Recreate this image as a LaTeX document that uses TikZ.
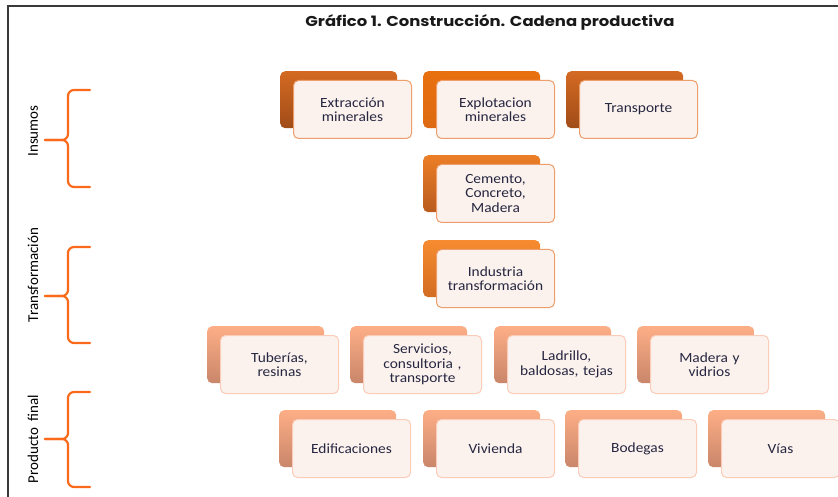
\documentclass[tikz,border=0pt]{standalone}
\usepackage{fontspec}
\setmainfont[FakeStretch=1.1]{Carlito}
\newfontfamily\titlefont[FakeStretch=1.15]{Poppins}
\newfontfamily\sidefont{Carlito}
\usetikzlibrary{backgrounds}
\definecolor{txt}{HTML}{262640}
\definecolor{framec}{HTML}{3A3A3A}
\definecolor{bracec}{HTML}{FA6A1A}
\definecolor{connc}{HTML}{F7C3A6}
\definecolor{frontfill}{HTML}{FBF2EE}
\definecolor{bordA}{HTML}{EE9E6A}
\definecolor{bordB}{HTML}{FBCDB8}
\tikzset{
  backbox/.style={minimum width=117pt, minimum height=57pt, inner sep=0pt, rounded corners=5pt, anchor=north west},
  frontbox/.style={draw, line width=1pt, fill=frontfill, minimum width=118pt, minimum height=58pt, text width=112pt, inner sep=2pt, align=center, rounded corners=5pt, anchor=north west, text=txt, font=\fontsize{14}{14.5}\selectfont},
  bkdark/.style={top color={rgb,255:red,212;green,106;blue,34}, bottom color={rgb,255:red,160;green,76;blue,24}},
  bkexp/.style={top color={rgb,255:red,232;green,112;blue,15}, bottom color={rgb,255:red,221;green,106;blue,18}},
  bkcem/.style={top color={rgb,255:red,236;green,126;blue,38}, bottom color={rgb,255:red,185;green,92;blue,30}},
  bkind/.style={top color={rgb,255:red,246;green,139;blue,48}, bottom color={rgb,255:red,210;green,108;blue,34}},
  bklight/.style={top color={rgb,255:red,253;green,174;blue,134}, bottom color={rgb,255:red,201;green,134;blue,106}},
  conn/.style={draw=connc, line width=1pt},
  bracestyle/.style={draw=bracec, line width=2.2pt, rounded corners=6pt, line cap=round},
  sidelabel/.style={rotate=90, font=\sidefont\fontsize{15}{15}\selectfont, text=black, inner sep=0pt}
}
\newcommand{\card}[7]{%
  \node[backbox, #4] (#1-b) at (#2,#3) {};
  \node[frontbox, draw=#5] (#1) at (#2,#3) [xshift=13pt, yshift=-9pt] {#6#7};
}
\begin{document}
\begin{tikzpicture}[x=1pt,y=-1pt]
\useasboundingbox (0,0) rectangle (838,497);
\fill[white] (0,0) rectangle (838,497);
% frame
\draw[framec, line width=1.6pt] (8,497) -- (8,6) -- (838,6);
% title
\node[anchor=base, font=\titlefont\bfseries\fontsize{14.3}{15}\selectfont, text={rgb,255:red,25;green,25;blue,25}] (title) at (490,27) {Gráfico 1. Construcción. Cadena productiva};
% braces
\draw[bracestyle] (90,90) -- (68,90) -- (68,140) -- (45,140);
\draw[bracestyle] (90,187) -- (68,187) -- (68,140) -- (45,140);
\draw[bracestyle] (90,247) -- (68,247) -- (68,296) -- (45,296);
\draw[bracestyle] (90,343) -- (68,343) -- (68,296) -- (45,296);
\draw[bracestyle] (90,392) -- (68,392) -- (68,439) -- (45,439);
\draw[bracestyle] (90,487) -- (68,487) -- (68,439) -- (45,439);
\node[sidelabel] (ins) at (33,131) {Insumos};
\node[sidelabel] (tra) at (33,275) {Transformación};
\node[sidelabel] (pro) at (33,439) {Producto\hspace{0.45em}final};
% cards
\card{ext}{280}{71}{bkdark}{bordA}{Extracción\\}{minerales}
\card{exp}{423}{71}{bkexp}{bordA}{Explotacion\\}{minerales}
\card{trn}{566}{71}{bkdark}{bordA}{Transporte}{}
\card{cem}{423}{155}{bkcem}{bordA}{Cemento,\\Concreto,\\}{Madera}
\card{ind}{423}{240}{bkind}{bordA}{Industria\\}{transformación}
\card{tub}{207}{326}{bklight}{bordB}{Tuberías,\\}{resinas}
\card{ser}{350}{326}{bklight}{bordB}{Servicios,\\consultoria ,\\}{transporte}
\card{lad}{494}{326}{bklight}{bordB}{Ladrillo,\\}{baldosas, tejas}
\card{mad}{637}{326}{bklight}{bordB}{Madera y\\}{vidrios}
\card{edi}{279}{410}{bklight}{bordB}{Edificaciones}{}
\card{viv}{423}{410}{bklight}{bordB}{Vivienda}{}
\card{bod}{565}{410}{bklight}{bordB}{Bodegas}{}
\card{via}{708}{410}{bklight}{bordB}{Vías}{}
% connectors
\begin{scope}[on background layer]
\draw[conn] (exp-b.south) -- (cem-b.north);
\draw[conn] (cem-b.south) -- (ind-b.north);
\path (tub-b.north) ++(0,-13) coordinate (bus1);
\draw[conn] (ind-b.south) -- (ind-b.south |- bus1);
\draw[conn] (tub-b.north) |- (bus1 -| mad-b.north) -- (mad-b.north);
\draw[conn] (ser-b.north) -- (ser-b.north |- bus1);
\draw[conn] (lad-b.north) -- (lad-b.north |- bus1);
\path (edi-b.north) ++(0,-8) coordinate (bus2);
\draw[conn] (ser-b.south) -- (ser-b.south |- bus2);
\draw[conn] (edi-b.north) |- (bus2 -| viv-b.north) -- (viv-b.north);
\draw[conn] (mad-b.south) -- (mad-b.south |- bus2);
\draw[conn] (bod-b.north) |- (bus2 -| via-b.north) -- (via-b.north);
\end{scope}
\end{tikzpicture}
\end{document}
